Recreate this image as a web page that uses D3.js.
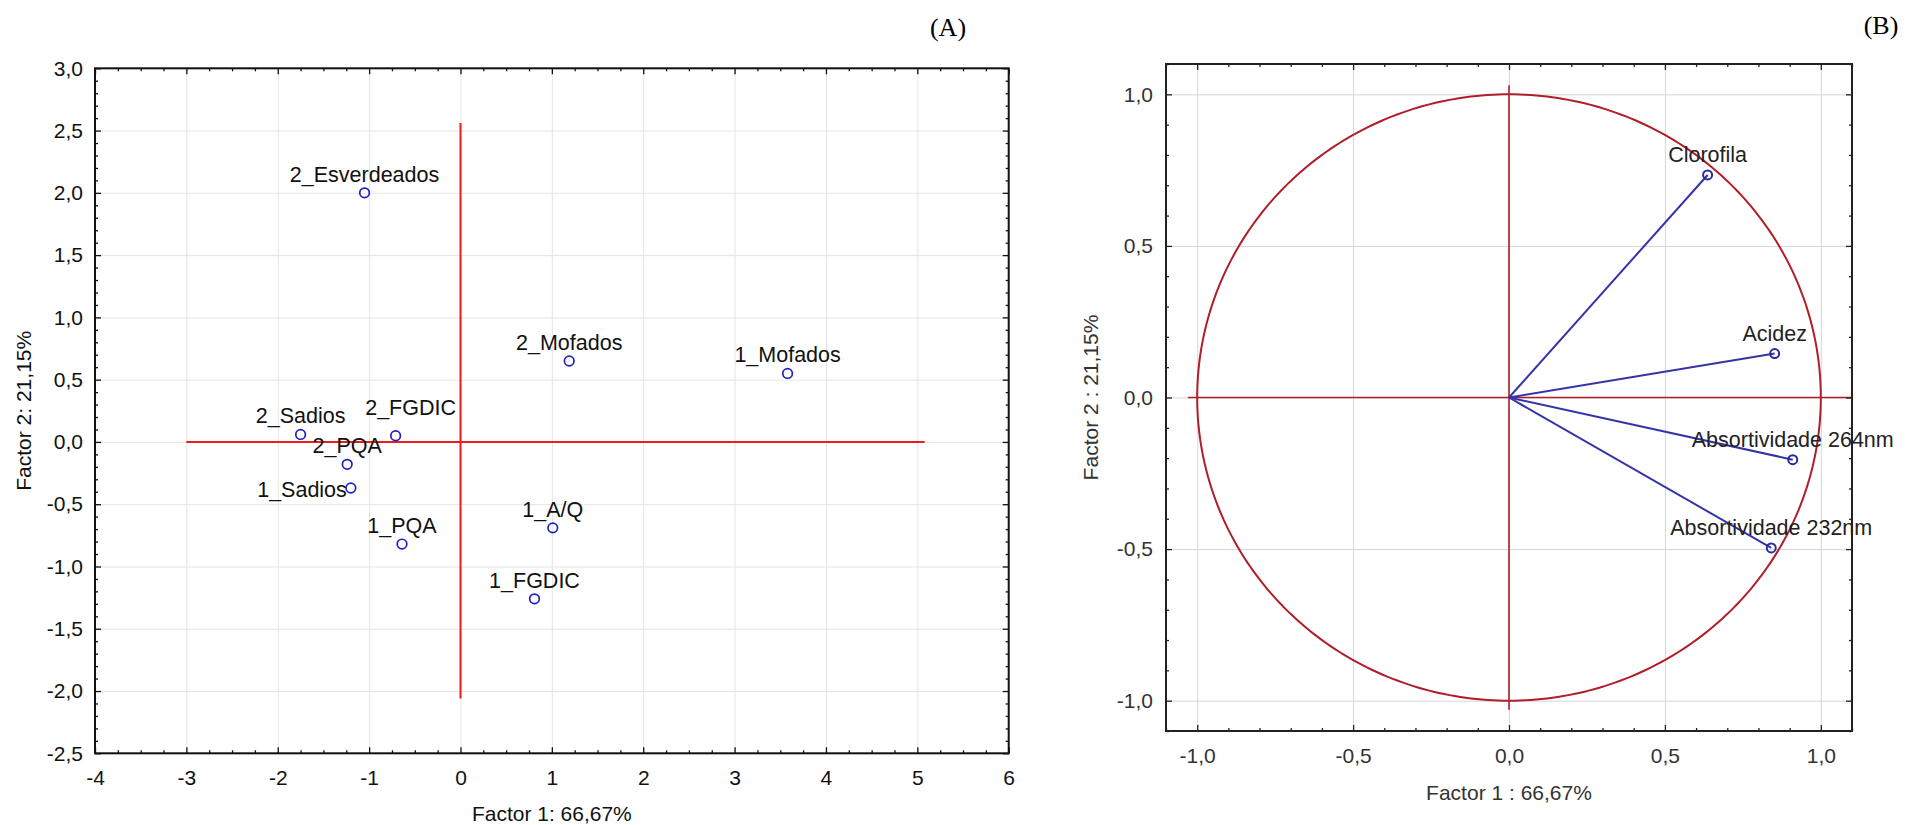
<!DOCTYPE html>
<html>
<head>
<meta charset="utf-8">
<script src="https://cdn.jsdelivr.net/npm/d3@7"></script>
<style>
  html, body { margin: 0; padding: 0; background: #fff; }
  svg { display: block; }
  text { font-family: "Liberation Sans", Arial, sans-serif; }
  text.tag { font-family: "Liberation Serif", "Times New Roman", serif; }
</style>
</head>
<body>
<svg id="fig" width="1905" height="825"></svg>
<script>
// ---- Panel A: factor scores of the samples ----
const scoreNames = ["2_Esverdeados", "2_Sadios", "2_FGDIC", "2_PQA", "1_Sadios", "1_PQA",
                    "2_Mofados", "1_Mofados", "1_A/Q", "1_FGDIC"];
const scoreF1 = [-1.05, -1.75, -0.71, -1.24, -1.20, -0.64, 1.19, 3.58, 1.01, 0.81];
const scoreF2 = [ 2.00,  0.06,  0.05, -0.18, -0.37, -0.82, 0.65, 0.55, -0.69, -1.26];
const xTicksA = [-4, -3, -2, -1, 0, 1, 2, 3, 4, 5, 6];
const yTicksA = [-2.5, -2.0, -1.5, -1.0, -0.5, 0.0, 0.5, 1.0, 1.5, 2.0, 2.5, 3.0];
const titleA = { x: "Factor 1: 66,67%", y: "Factor 2: 21,15%", tag: "(A)" };

// ---- Panel B: variable loadings (correlation circle) ----
const loadNames = ["Clorofila", "Acidez", "Absortividade 264nm", "Absortividade 232nm"];
const loadF1 = [0.637, 0.852, 0.910, 0.841];
const loadF2 = [0.734, 0.145, -0.205, -0.496];
const ticksB = [-1.0, -0.5, 0.0, 0.5, 1.0];
const titleB = { x: "Factor 1 : 66,67%", y: "Factor 2 : 21,15%", tag: "(B)" };

// label placement tweaks (pixels) for crowded points in panel A
const labelShiftA = { "2_FGDIC": [15, -10, "middle"], "1_Sadios": [-4, 20, "end"] };

const loc = d3.formatLocale({ decimal: ",", thousands: ".", grouping: [3], currency: ["", ""], minus: "-" });
const fmt1 = loc.format(".1f");
const fmt0 = loc.format("d");

const svg = d3.select("#fig");
const FONT = 21;
const LABEL_FONT = 21.5;

function panel(opts) {
  const g = svg.append("g");
  const { x, y, xTicks, yTicks, xFmt, yFmt, xMinor, yMinor, gridColor, frameColor, textColor, xPad, yPad } = opts;
  const [x0, x1] = x.range();
  const [y0, y1] = y.range(); // y0 bottom, y1 top
  const W = x1 - x0, H = y0 - y1;

  // grid
  g.append("g").attr("transform", `translate(0,${y0})`)
    .call(d3.axisBottom(x).tickValues(xTicks).tickSize(-H).tickFormat(""))
    .call(s => s.select(".domain").remove())
    .selectAll("line").attr("stroke", gridColor).attr("stroke-width", 1);
  g.append("g").attr("transform", `translate(${x0},0)`)
    .call(d3.axisLeft(y).tickValues(yTicks).tickSize(-W).tickFormat(""))
    .call(s => s.select(".domain").remove())
    .selectAll("line").attr("stroke", gridColor).attr("stroke-width", 1);

  const plot = g.append("g");

  // axes with inward ticks on all four sides
  const axes = g.append("g");
  const mk = (axisFn, tr, vals, size, fmt, pad) => {
    const a = axes.append("g").attr("transform", tr)
      .call(axisFn.tickValues(vals).tickSizeInner(size).tickSizeOuter(0).tickPadding(pad).tickFormat(fmt));
    a.select(".domain").remove();
    a.selectAll("line").attr("stroke", frameColor).attr("stroke-width", 1.3);
    a.selectAll("text").attr("font-size", FONT).attr("fill", textColor);
    return a;
  };
  mk(d3.axisBottom(x), `translate(0,${y0})`, xTicks, -6, xFmt, xPad);
  mk(d3.axisBottom(x), `translate(0,${y0})`, xMinor, -3, () => "", 0);
  mk(d3.axisTop(x), `translate(0,${y1})`, xTicks, -6, () => "", 0);
  mk(d3.axisTop(x), `translate(0,${y1})`, xMinor, -3, () => "", 0);
  mk(d3.axisLeft(y), `translate(${x0},0)`, yTicks, -6, yFmt, yPad);
  mk(d3.axisLeft(y), `translate(${x0},0)`, yMinor, -3, () => "", 0);
  mk(d3.axisRight(y), `translate(${x1},0)`, yTicks, -6, () => "", 0);
  mk(d3.axisRight(y), `translate(${x1},0)`, yMinor, -3, () => "", 0);

  axes.append("rect").attr("x", x0).attr("y", y1).attr("width", W).attr("height", H)
    .attr("fill", "none").attr("stroke", frameColor).attr("stroke-width", 2);

  // titles
  g.append("text").attr("x", (x0 + x1) / 2).attr("y", opts.xTitleY)
    .attr("text-anchor", "middle").attr("dominant-baseline", "central")
    .attr("font-size", FONT).attr("fill", textColor).text(opts.titles.x);
  g.append("text").attr("transform", `translate(${opts.yTitleX},${(y0 + y1) / 2}) rotate(-90)`)
    .attr("text-anchor", "middle").attr("dominant-baseline", "central")
    .attr("font-size", FONT).attr("fill", textColor).text(opts.titles.y);
  svg.append("text").attr("class", "tag").attr("x", opts.tagPos[0]).attr("y", opts.tagPos[1])
    .attr("text-anchor", "middle").attr("dominant-baseline", "central")
    .attr("font-size", 26).attr("fill", "#000").text(opts.titles.tag);
  return plot;
}

const range = (a, b, s) => d3.range(Math.round(a / s), Math.round(b / s) + 1).map(i => +(i * s).toFixed(4));

// ================= Panel A =================
const xA = d3.scaleLinear().domain([-4, 6]).range([95, 1008.7]);
const yA = d3.scaleLinear().domain([-2.5, 3.0]).range([753.3, 68.3]);
const pA = panel({
  x: xA, y: yA, xTicks: xTicksA, yTicks: yTicksA,
  xFmt: fmt0, yFmt: fmt1,
  xMinor: range(-4, 6, 0.25).filter(v => !xTicksA.includes(v)),
  yMinor: range(-2.5, 3.0, 0.1).filter(v => !yTicksA.some(t => Math.abs(t - v) < 1e-6)),
  gridColor: "#e4e4e4", frameColor: "#111", textColor: "#111",
  xPad: 17, yPad: 12, xTitleY: 813, yTitleX: 23,
  titles: titleA, tagPos: [948, 27]
});

// reference axes through the origin
pA.append("line").attr("x1", xA(-3)).attr("x2", xA(5.08)).attr("y1", yA(0)).attr("y2", yA(0))
  .attr("stroke", "#ee1c1c").attr("stroke-width", 2);
pA.append("line").attr("x1", xA(0)).attr("x2", xA(0)).attr("y1", yA(2.56)).attr("y2", yA(-2.06))
  .attr("stroke", "#ee1c1c").attr("stroke-width", 2);

const scores = scoreNames.map((n, i) => ({ n, f1: scoreF1[i], f2: scoreF2[i] }));
pA.selectAll("circle.s").data(scores).join("circle").attr("class", "s")
  .attr("cx", d => xA(d.f1)).attr("cy", d => yA(d.f2)).attr("r", 4.8)
  .attr("fill", "none").attr("stroke", "#1f1fc4").attr("stroke-width", 1.7);
pA.selectAll("text.s").data(scores).join("text").attr("class", "s")
  .attr("x", d => xA(d.f1) + (labelShiftA[d.n] ? labelShiftA[d.n][0] : 0))
  .attr("y", d => yA(d.f2) - 18 + (labelShiftA[d.n] ? labelShiftA[d.n][1] : 0))
  .attr("text-anchor", d => labelShiftA[d.n] ? labelShiftA[d.n][2] : "middle")
  .attr("dominant-baseline", "central")
  .attr("font-size", LABEL_FONT).attr("fill", "#111").text(d => d.n);

// ================= Panel B =================
const xB = d3.scaleLinear().domain([-1.1, 1.1]).range([1166, 1852]);
const yB = d3.scaleLinear().domain([-1.1, 1.1]).range([731, 64]);
const pB = panel({
  x: xB, y: yB, xTicks: ticksB, yTicks: ticksB,
  xFmt: fmt1, yFmt: fmt1,
  xMinor: range(-1.1, 1.1, 0.1).filter(v => !ticksB.some(t => Math.abs(t - v) < 1e-6)),
  yMinor: range(-1.1, 1.1, 0.1).filter(v => !ticksB.some(t => Math.abs(t - v) < 1e-6)),
  gridColor: "#d6d6d6", frameColor: "#222", textColor: "#333",
  xPad: 17, yPad: 13, xTitleY: 792, yTitleX: 1090,
  titles: titleB, tagPos: [1881, 25]
});

// unit correlation circle
const circ = d3.range(0, 361, 1).map(a => [Math.cos(a * Math.PI / 180), Math.sin(a * Math.PI / 180)]);
pB.append("path").attr("d", d3.line().x(d => xB(d[0])).y(d => yB(d[1]))(circ))
  .attr("fill", "none").attr("stroke", "#b01e2a").attr("stroke-width", 2);
pB.append("line").attr("x1", xB(-1.03)).attr("x2", xB(1.1)).attr("y1", yB(0)).attr("y2", yB(0))
  .attr("stroke", "#b01e2a").attr("stroke-width", 1.6);
pB.append("line").attr("x1", xB(0)).attr("x2", xB(0)).attr("y1", yB(1.03)).attr("y2", yB(-1.03))
  .attr("stroke", "#b01e2a").attr("stroke-width", 1.6);

const loads = loadNames.map((n, i) => ({ n, f1: loadF1[i], f2: loadF2[i] }));
pB.selectAll("line.v").data(loads).join("line").attr("class", "v")
  .attr("x1", xB(0)).attr("y1", yB(0)).attr("x2", d => xB(d.f1)).attr("y2", d => yB(d.f2))
  .attr("stroke", "#3434a8").attr("stroke-width", 2);
pB.selectAll("circle.v").data(loads).join("circle").attr("class", "v")
  .attr("cx", d => xB(d.f1)).attr("cy", d => yB(d.f2)).attr("r", 4.5)
  .attr("fill", "none").attr("stroke", "#2a2a9a").attr("stroke-width", 2);
pB.selectAll("text.v").data(loads).join("text").attr("class", "v")
  .attr("x", d => xB(d.f1)).attr("y", d => yB(d.f2) - 20)
  .attr("text-anchor", "middle").attr("dominant-baseline", "central")
  .attr("font-size", LABEL_FONT).attr("fill", "#222").text(d => d.n);
</script>
</body>
</html>
